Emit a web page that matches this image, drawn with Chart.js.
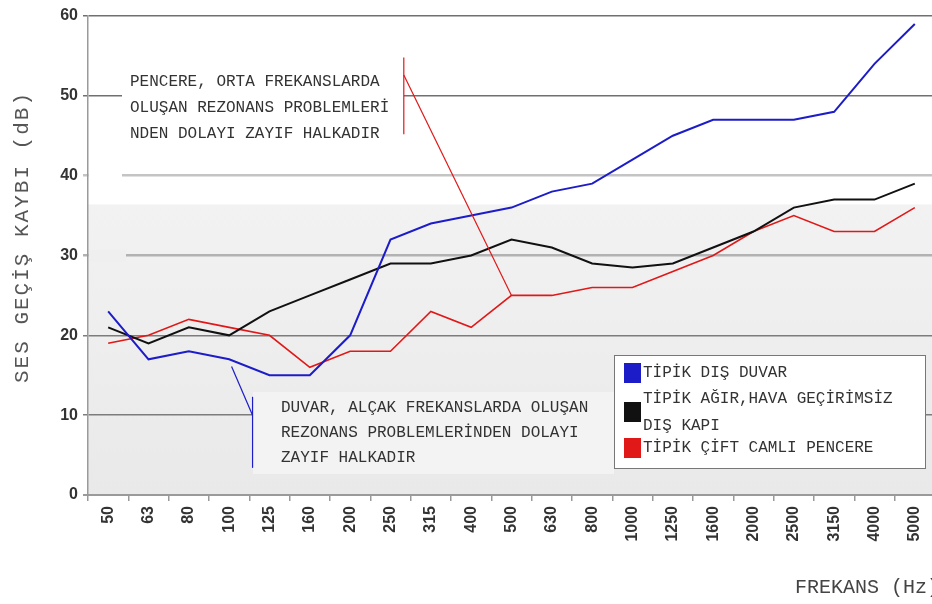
<!DOCTYPE html>
<html>
<head>
<meta charset="utf-8">
<script src="https://cdn.jsdelivr.net/npm/chart.js@4"></script>
<style>
    html, body { margin: 0; padding: 0; background: #fff; overflow: hidden; }
    #chart { display: block; }
</style>
</head>
<body>
<canvas id="chart" width="939" height="604"></canvas>
<script>
const frequencies = ['50', '63', '80', '100', '125', '160', '200', '250', '315', '400', '500',
    '630', '800', '1000', '1250', '1600', '2000', '2500', '3150', '4000', '5000'];
const wallLoss = [23, 17, 18, 17, 15, 15, 20, 32, 34, 35, 36, 38, 39, 42, 45, 47, 47, 47, 48, 54, 59];
const doorLoss = [21, 19, 21, 20, 23, 25, 27, 29, 29, 30, 32, 31, 29, 28.5, 29, 31, 33, 36, 37, 37, 39];
const windowLoss = [19, 20, 22, 21, 20, 16, 18, 18, 23, 21, 25, 25, 26, 26, 28, 30, 33, 35, 33, 33, 36];
const yTicks = [0, 10, 20, 30, 40, 50, 60];

const seriesNames = [
    ['TİPİK DIŞ DUVAR'],
    ['TİPİK AĞIR,HAVA GEÇİRİMSİZ', 'DIŞ KAPI'],
    ['TİPİK ÇİFT CAMLI PENCERE']
];
const seriesColors = ['#1c1cc8', '#111111', '#e01818'];

const yTitle = 'SES GEÇİŞ KAYBI (dB)';
const xTitle = 'FREKANS (Hz)';
const windowNote = ['PENCERE, ORTA FREKANSLARDA', 'OLUŞAN REZONANS PROBLEMLERİ', 'NDEN DOLAYI ZAYIF HALKADIR'];
const wallNote = ['DUVAR, ALÇAK FREKANSLARDA OLUŞAN', 'REZONANS PROBLEMLERİNDEN DOLAYI', 'ZAYIF HALKADIR'];

const monoFont = '"Liberation Mono", "DejaVu Sans Mono", monospace';

// grid line look per value
const gridLook = {
    60: ['#707070', 1.5], 50: ['#707070', 1.5], 40: ['#c4c4c4', 2.5],
    30: ['#b2b2b2', 2.5], 20: ['#7c7c7c', 1.5], 10: ['#7c7c7c', 1.5], 0: ['#9a9a9a', 2]
};

function line(ctx, pts, color, width) {
    ctx.save();
    ctx.strokeStyle = color;
    ctx.lineWidth = width;
    ctx.beginPath();
    ctx.moveTo(pts[0][0], pts[0][1]);
    for (let i = 1; i < pts.length; i++) ctx.lineTo(pts[i][0], pts[i][1]);
    ctx.stroke();
    ctx.restore();
}

const decorPlugin = {
    id: 'decor',
    beforeDraw(chart) {
        const { ctx, chartArea, scales } = chart;
        const top = scales.y.getPixelForValue(36.4);
        const bottom = scales.y.getPixelForValue(0);
        const grad = ctx.createLinearGradient(0, top, 0, bottom);
        grad.addColorStop(0, '#f2f2f2');
        grad.addColorStop(1, '#e9e9e9');
        ctx.save();
        ctx.fillStyle = grad;
        ctx.fillRect(chartArea.left, top, chartArea.right - chartArea.left, bottom - top);
        ctx.restore();
    },
    beforeDatasetsDraw(chart) {
        const { ctx } = chart;
        ctx.save();
        // text boxes hiding the grid behind the notes
        ctx.fillStyle = '#ffffff';
        ctx.fillRect(122, 62, 282, 88);
        ctx.fillRect(89, 170, 33, 12);
        ctx.fillStyle = '#efefef';
        ctx.fillRect(89, 250, 37, 12);
        ctx.fillStyle = '#f3f3f3';
        ctx.fillRect(253, 392, 361, 82);
        ctx.restore();
    },
    afterDatasetsDraw(chart) {
        const { ctx, scales } = chart;
        const x = scales.x, y = scales.y;
        const px = (i, v) => [x.getPixelForValue(i), y.getPixelForValue(v)];

        // window note leader
        line(ctx, [px(7.33, 54.8), px(7.33, 45.2)], '#e01818', 1.2);
        const target = chart.getDatasetMeta(2).data[10];
        line(ctx, [px(7.33, 52.6), [target.x, target.y]], '#e01818', 1.2);
        // wall note leader
        line(ctx, [px(3.06, 16.1), px(3.58, 10)], '#1c1cc8', 1.2);
        line(ctx, [px(3.58, 12.3), px(3.58, 3.4)], '#1c1cc8', 1.2);

        ctx.save();
        ctx.font = '16px ' + monoFont;
        ctx.fillStyle = '#333';
        ctx.textBaseline = 'middle';
        ctx.textAlign = 'left';
        windowNote.forEach((t, i) => ctx.fillText(t, 130, 82 + i * 26));
        wallNote.forEach((t, i) => ctx.fillText(t, 281, 408 + i * 25));

        // legend
        ctx.fillStyle = '#fff';
        ctx.fillRect(614, 355, 311, 113);
        ctx.strokeStyle = '#777';
        ctx.lineWidth = 1;
        ctx.strokeRect(614.5, 355.5, 311, 113);
        const rows = [373, 412, 448];
        seriesNames.forEach((lines, i) => {
            ctx.fillStyle = seriesColors[i];
            ctx.fillRect(624, rows[i] - 10, 17, 20);
            ctx.fillStyle = '#333';
            if (lines.length === 1) {
                ctx.fillText(lines[0], 643, rows[i]);
            } else {
                ctx.fillText(lines[0], 643, rows[i] - 13);
                ctx.fillText(lines[1], 643, rows[i] + 14);
            }
        });

        // axis titles
        ctx.fillStyle = '#555';
        ctx.font = '21px ' + monoFont;
        ctx.letterSpacing = '2px';
        ctx.save();
        ctx.translate(22, 237);
        ctx.rotate(-Math.PI / 2);
        ctx.textAlign = 'center';
        ctx.fillText(yTitle, 0, 0);
        ctx.restore();
        ctx.letterSpacing = '0px';
        ctx.font = '20px ' + monoFont;
        ctx.fillStyle = '#444';
        ctx.fillText(xTitle, 795, 588);
        ctx.restore();
    }
};

function drawChart() {
    const canvas = document.getElementById('chart');
    new Chart(canvas, {
        type: 'line',
        data: {
            labels: frequencies,
            datasets: [
                { label: seriesNames[0].join(' '), data: wallLoss, borderColor: seriesColors[0], borderWidth: 2 },
                { label: seriesNames[1].join(' '), data: doorLoss, borderColor: seriesColors[1], borderWidth: 2 },
                { label: seriesNames[2].join(' '), data: windowLoss, borderColor: seriesColors[2], borderWidth: 1.6 }
            ]
        },
        options: {
            responsive: false,
            animation: false,
            devicePixelRatio: 1,
            layout: { padding: { top: 16, left: 0, right: 0, bottom: 0 } },
            elements: { point: { radius: 0 }, line: { tension: 0 } },
            plugins: {
                legend: { display: false },
                tooltip: { enabled: false }
            },
            scales: {
                x: {
                    type: 'category',
                    offset: true,
                    afterFit: scale => { scale.height = 109; },
                    grid: { offset: true, drawOnChartArea: false, drawTicks: true, tickLength: 6, color: '#999', lineWidth: 1.5 },
                    border: { color: '#9a9a9a', width: 2 },
                    ticks: {
                        autoSkip: false, minRotation: 90, maxRotation: 90, padding: 5,
                        color: '#333', font: { family: '"Liberation Sans", Arial, sans-serif', size: 16, weight: 'bold' }
                    }
                },
                y: {
                    min: 0,
                    max: 60,
                    afterFit: scale => { scale.width = 88; },
                    afterBuildTicks: scale => { scale.ticks = yTicks.map(v => ({ value: v })); },
                    grid: {
                        tickLength: 5,
                        color: c => (gridLook[c.tick.value] || ['#888'])[0],
                        lineWidth: c => (gridLook[c.tick.value] || ['#888', 1])[1]
                    },
                    border: { color: '#9a9a9a', width: 1.5 },
                    ticks: {
                        padding: 5,
                        color: '#333', font: { family: '"Liberation Sans", Arial, sans-serif', size: 16, weight: 'bold' }
                    }
                }
            }
        },
        plugins: [decorPlugin]
    });
}

drawChart();
</script>
</body>
</html>
